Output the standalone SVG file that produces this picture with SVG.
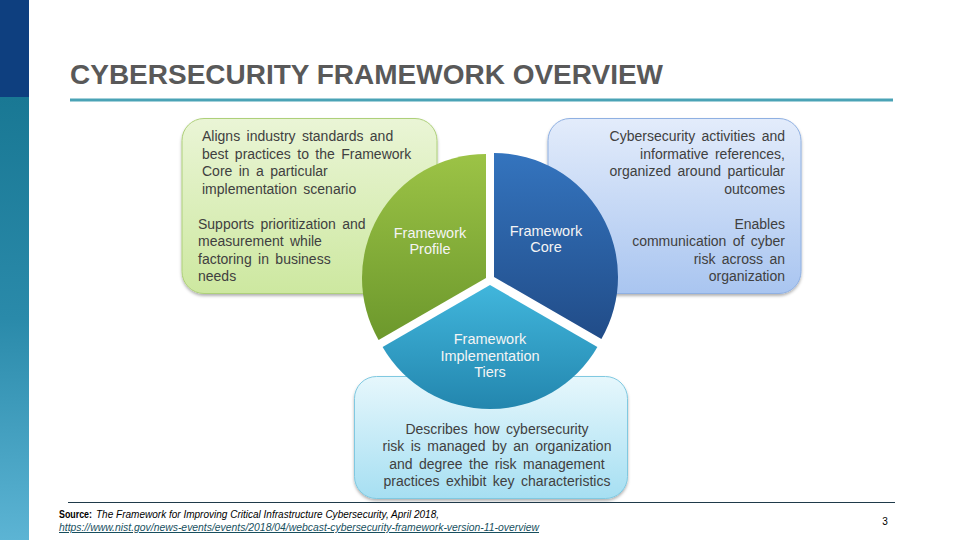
<svg xmlns="http://www.w3.org/2000/svg" width="960" height="540" viewBox="0 0 960 540">
  <defs>
    <linearGradient id="sideGrad" x1="0" y1="0" x2="0" y2="1">
      <stop offset="0" stop-color="#197894"/>
      <stop offset="0.5" stop-color="#2a8aaa"/>
      <stop offset="1" stop-color="#5cb4d4"/>
    </linearGradient>
    <linearGradient id="gBox" x1="0" y1="0" x2="0" y2="1">
      <stop offset="0" stop-color="#eaf5d6"/>
      <stop offset="1" stop-color="#cde8a0"/>
    </linearGradient>
    <linearGradient id="bBox" x1="0" y1="0" x2="0" y2="1">
      <stop offset="0" stop-color="#e3ecfb"/>
      <stop offset="1" stop-color="#a9c5f0"/>
    </linearGradient>
    <linearGradient id="tBox" x1="0" y1="0" x2="0" y2="1">
      <stop offset="0" stop-color="#e6f7fc"/>
      <stop offset="1" stop-color="#a6dff2"/>
    </linearGradient>
    <linearGradient id="gPie" x1="0" y1="0" x2="0" y2="1">
      <stop offset="0" stop-color="#9cc346"/>
      <stop offset="1" stop-color="#6c982c"/>
    </linearGradient>
    <linearGradient id="bPie" x1="0" y1="0" x2="0" y2="1">
      <stop offset="0" stop-color="#3474be"/>
      <stop offset="1" stop-color="#214c88"/>
    </linearGradient>
    <linearGradient id="tPie" x1="0" y1="0" x2="0" y2="1">
      <stop offset="0" stop-color="#41b6dc"/>
      <stop offset="1" stop-color="#2386ae"/>
    </linearGradient>
    <filter id="shadow" x="-10%" y="-10%" width="120%" height="130%">
      <feDropShadow dx="0" dy="2" stdDeviation="1.5" flood-color="#000" flood-opacity="0.3"/>
    </filter>
    <style>
      .box { stroke-width: 1; filter: url(#shadow); }
      .bt { font-family: "Liberation Sans", Arial, sans-serif; font-size: 14px; fill: #404040; word-spacing: 2.5px; }
      .pl { font-family: "Liberation Sans", Arial, sans-serif; font-size: 14.5px; fill: #f4f4f4; text-anchor: middle; }
      .foot { font-family: "Liberation Sans", Arial, sans-serif; font-size: 10px; fill: #000; }
    </style>
  </defs>

  <rect width="960" height="540" fill="#ffffff"/>

  <!-- sidebar -->
  <rect x="0" y="0" width="29" height="97" fill="#0e3f7f"/>
  <rect x="0" y="97" width="29" height="443" fill="url(#sideGrad)"/>

  <!-- title -->
  <text x="70" y="84" font-family="Liberation Sans, Arial, sans-serif" font-size="27" font-weight="bold" fill="#595959" textLength="593" lengthAdjust="spacingAndGlyphs">CYBERSECURITY FRAMEWORK OVERVIEW</text>
  <rect x="70" y="98.5" width="823" height="3" fill="#4aa3b6"/>

  <!-- description boxes -->
  <g id="box-profile">
    <rect class="box" x="182" y="118.5" width="255" height="175" rx="22" fill="url(#gBox)" stroke="#aed07a"/>
    <text class="bt" x="202" y="141">Aligns industry standards and</text>
    <text class="bt" x="202" y="159">best practices to the Framework</text>
    <text class="bt" x="202" y="176">Core in a particular</text>
    <text class="bt" x="202" y="194">implementation scenario</text>
    <text class="bt" x="198" y="229">Supports prioritization and</text>
    <text class="bt" x="198" y="246">measurement while</text>
    <text class="bt" x="198" y="264">factoring in business</text>
    <text class="bt" x="198" y="281">needs</text>
  </g>

  <g id="box-core">
    <rect class="box" x="548" y="118.5" width="253" height="175" rx="22" fill="url(#bBox)" stroke="#8fb0e2"/>
    <g text-anchor="end">
      <text class="bt" x="785" y="141">Cybersecurity activities and</text>
      <text class="bt" x="785" y="159">informative references,</text>
      <text class="bt" x="785" y="176">organized around particular</text>
      <text class="bt" x="785" y="194">outcomes</text>
      <text class="bt" x="785" y="229">Enables</text>
      <text class="bt" x="785" y="246">communication of cyber</text>
      <text class="bt" x="785" y="264">risk across an</text>
      <text class="bt" x="785" y="281">organization</text>
    </g>
  </g>

  <g id="box-tiers">
    <rect class="box" x="354.5" y="376.5" width="273" height="122" rx="22" fill="url(#tBox)" stroke="#80c9e1"/>
    <g text-anchor="middle">
      <text class="bt" x="497" y="434">Describes how cybersecurity</text>
      <text class="bt" x="497" y="451">risk is managed by an organization</text>
      <text class="bt" x="497" y="469">and degree the risk management</text>
      <text class="bt" x="497" y="486">practices exhibit key characteristics</text>
    </g>
  </g>

  <!-- pie segments -->
  <g id="pie-profile">
    <path d="M486,278 L486,154 A124,124 0 0 0 378.6,340 Z" fill="url(#gPie)"/>
    <text class="pl" x="430" y="238">Framework</text>
    <text class="pl" x="430" y="254">Profile</text>
  </g>
  <g id="pie-core">
    <path d="M494,277 L494,153 A124,124 0 0 1 601.4,339 Z" fill="url(#bPie)"/>
    <text class="pl" x="546" y="236">Framework</text>
    <text class="pl" x="546" y="252">Core</text>
  </g>
  <g id="pie-tiers">
    <path d="M490,285 L382.6,347 A124,124 0 0 0 597.4,347 Z" fill="url(#tPie)"/>
    <text class="pl" x="490" y="344">Framework</text>
    <text class="pl" x="490" y="361">Implementation</text>
    <text class="pl" x="490" y="377">Tiers</text>
  </g>

  <g id="connectors"/>

  <!-- footer -->
  <line x1="68" y1="502.5" x2="895" y2="502.5" stroke="#1f3a4a" stroke-width="1.2"/>
  <text class="foot" x="59" y="518" font-weight="bold" textLength="33" lengthAdjust="spacingAndGlyphs">Source:</text>
  <text class="foot" x="96" y="518" font-style="italic" textLength="343" lengthAdjust="spacingAndGlyphs">The Framework for Improving Critical Infrastructure Cybersecurity, April 2018,</text>
  <text class="foot" x="59" y="531" font-style="italic" text-decoration="underline" textLength="480" lengthAdjust="spacingAndGlyphs" style="fill:#174f5e">https://www.nist.gov/news-events/events/2018/04/webcast-cybersecurity-framework-version-11-overview</text>
  <text class="foot" x="885" y="525" text-anchor="middle" font-size="9">3</text>
</svg>
